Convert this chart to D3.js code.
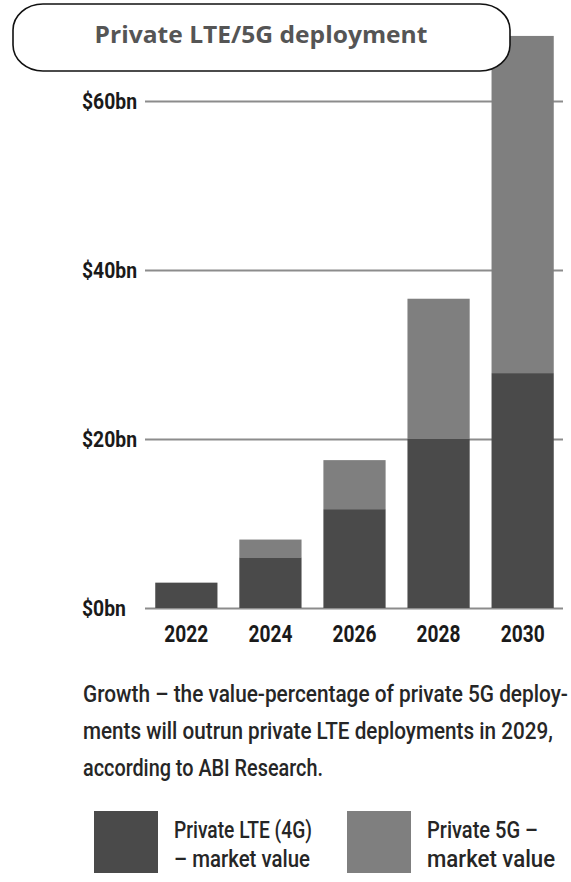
<!DOCTYPE html>
<html>
<head>
<meta charset="utf-8">
<script src="https://cdn.jsdelivr.net/npm/d3@7"></script>
<style>
  html, body { margin: 0; padding: 0; background: #fff; }
  svg { display: block; }
  .cond { font-family: "Roboto", "Noto Sans", sans-serif; }
</style>
</head>
<body>
<svg id="chart" width="571" height="882"></svg>
<script>
// Market value by year, $bn
const years = ["2022", "2024", "2026", "2028", "2030"];
const lteValues = [3, 6, 11.7, 20, 27.8];
const fiveGValues = [0, 2.1, 5.8, 16.6, 39.9];
const yTicks = [0, 20, 40, 60];
const seriesKeys = ["lte", "fiveG"];
const seriesColors = ["#4a4a4a", "#7f7f7f"];
const titleText = "Private LTE/5G deployment";
const captionLines = [
  "Growth \u2013 the value-percentage of private 5G deploy-",
  "ments will outrun private LTE deployments in 2029,",
  "according to ABI Research."
];
const legendLabels = [
  ["Private LTE (4G)", "\u2013 market value"],
  ["Private 5G \u2013", "market value"]
];

const svg = d3.select("#chart");

// Squeeze texts horizontally to a set width, giving the narrow look of a
// condensed typeface. `target` is a number (scale taken from the first text
// and shared) or a function (d, i) returning each text's own width.
function condense(sel, target) {
  const shared = typeof target === "function" ? null
    : target / sel.node().getComputedTextLength();
  sel.each(function(d, i) {
    const t = d3.select(this);
    const sx = shared !== null ? shared : target(d, i) / this.getComputedTextLength();
    const x0 = +t.attr("x") || 0;
    const y0 = +t.attr("y") || 0;
    t.attr("x", 0).attr("y", 0)
      .attr("transform", `translate(${x0},${y0}) scale(${sx},1)`);
  });
}

const rows = years.map((yr, i) => ({ year: yr, lte: lteValues[i], fiveG: fiveGValues[i] }));

const x = d3.scaleBand().domain(years).range([146, 563]).paddingInner(0.26).paddingOuter(0.11);
const y = d3.scaleLinear().domain([0, 60]).range([608, 101]);
const color = d3.scaleOrdinal().domain(seriesKeys).range(seriesColors);

// Gridlines and value labels
const yAxis = svg.append("g")
  .attr("transform", "translate(145,0)")
  .call(d3.axisLeft(y).tickValues(yTicks).tickSize(-418).tickFormat(d => "$" + d + "bn"));
yAxis.select(".domain").remove();
yAxis.selectAll(".tick line").attr("stroke", "#8c8c8c").attr("stroke-width", 2.2);
const yLabels = yAxis.selectAll(".tick text")
  .attr("class", "cond")
  .attr("x", -63)
  .attr("y", 7)
  .attr("dy", null)
  .attr("text-anchor", "start")
  .attr("font-size", 21.5)
  .attr("font-weight", "bold")
  .attr("fill", "#1a1a1a");
condense(yLabels, 44);

// Stacked bars
const stacked = d3.stack().keys(seriesKeys)(rows);
svg.append("g").selectAll("g")
  .data(stacked)
  .join("g")
  .attr("fill", d => color(d.key))
  .selectAll("rect")
  .data(d => d)
  .join("rect")
  .attr("x", d => x(d.data.year))
  .attr("width", x.bandwidth())
  .attr("y", d => y(d[1]))
  .attr("height", d => y(d[0]) - y(d[1]));

// Year labels
const xAxis = svg.append("g")
  .attr("transform", "translate(0,608)")
  .call(d3.axisBottom(x).tickSize(0).tickPadding(0));
xAxis.select(".domain").remove();
const xLabels = xAxis.selectAll(".tick text")
  .attr("class", "cond")
  .attr("x", 0)
  .attr("y", 34)
  .attr("dy", null)
  .attr("font-size", 23.5)
  .attr("font-weight", "bold")
  .attr("fill", "#1a1a1a");
condense(xLabels, 44);

// Title pill
svg.append("rect")
  .attr("x", 13).attr("y", 4)
  .attr("width", 497).attr("height", 67)
  .attr("rx", 30).attr("ry", 26)
  .attr("fill", "#fff")
  .attr("stroke", "#111")
  .attr("stroke-width", 1.6);
const title = svg.append("text")
  .attr("x", 261).attr("y", 43)
  .attr("text-anchor", "middle")
  .attr("font-family", "'Open Sans', sans-serif")
  .attr("font-weight", "bold")
  .attr("font-size", 23.5)
  .attr("fill", "#555")
  .text(titleText);
condense(title, 333);

// Caption
const captionWidths = [485, 470, 240];
const caption = svg.append("g").selectAll("text")
  .data(captionLines)
  .join("text")
  .attr("class", "cond")
  .attr("x", 83)
  .attr("y", (d, i) => 702 + i * 37)
  .attr("font-size", 23.5)
  .attr("font-weight", 500)
  .attr("fill", "#262626")
  .text(d => d);
condense(caption, (d, i) => captionWidths[i]);

// Legend
const legendX = [94, 347];
const legendWidths = [[138, 136], [111, 128]];
const legend = svg.append("g").selectAll("g")
  .data(seriesKeys)
  .join("g")
  .attr("transform", (d, i) => `translate(${legendX[i]},811)`);
legend.append("rect")
  .attr("width", 64).attr("height", 62)
  .attr("fill", d => color(d));
legend.each(function(key, k) {
  const lines = d3.select(this).selectAll("text")
    .data(legendLabels[k])
    .join("text")
    .attr("class", "cond")
    .attr("x", 80)
    .attr("y", (t, j) => 27 + j * 28.6)
    .attr("font-size", 24.2)
    .attr("font-weight", 500)
    .attr("fill", "#262626")
    .text(t => t);
  condense(lines, (t, j) => legendWidths[k][j]);
});
</script>
</body>
</html>
